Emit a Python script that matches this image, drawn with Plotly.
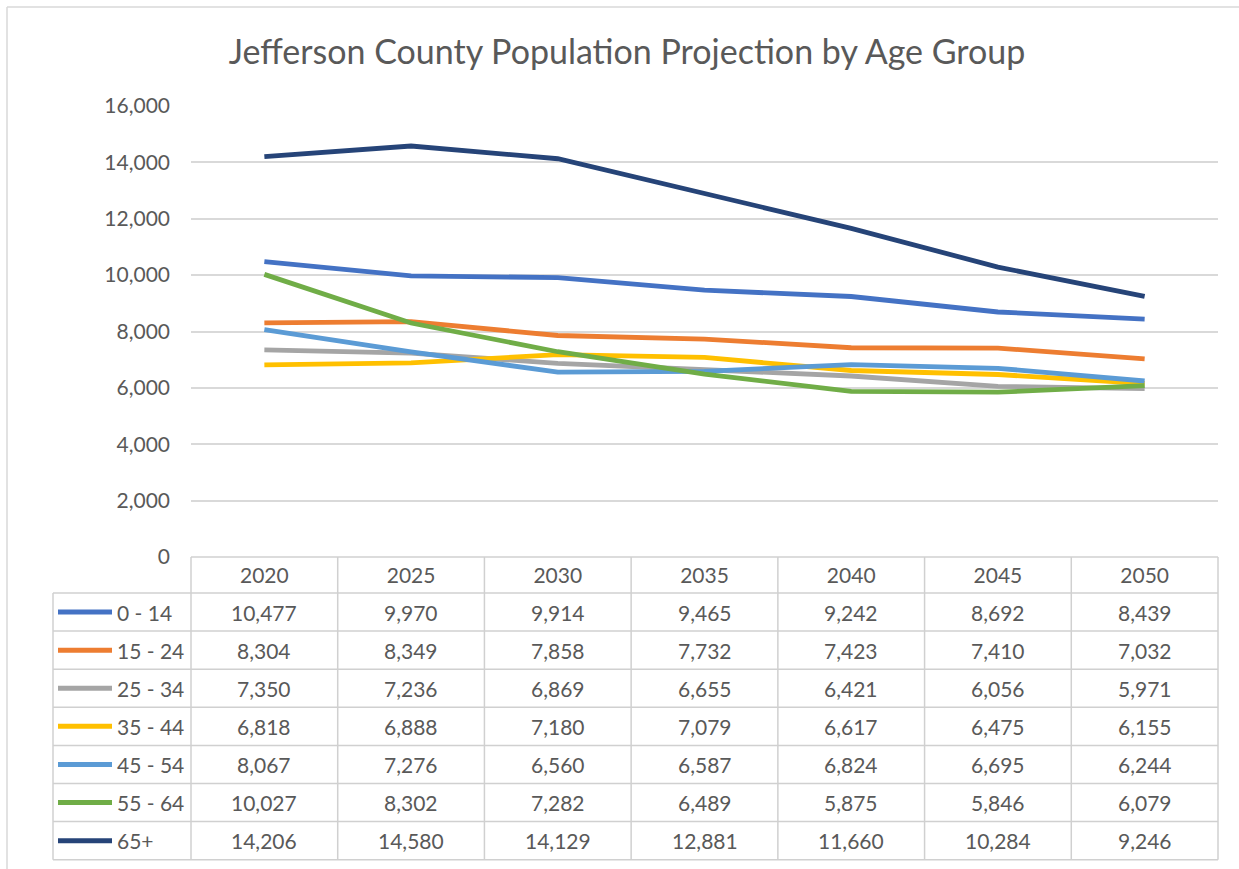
import plotly.graph_objects as go

W, H = 1239, 869

years = ["2020", "2025", "2030", "2035", "2040", "2045", "2050"]
groups = ["0 - 14", "15 - 24", "25 - 34", "35 - 44", "45 - 54", "55 - 64", "65+"]
age_0_14 = [10477, 9970, 9914, 9465, 9242, 8692, 8439]
age_15_24 = [8304, 8349, 7858, 7732, 7423, 7410, 7032]
age_25_34 = [7350, 7236, 6869, 6655, 6421, 6056, 5971]
age_35_44 = [6818, 6888, 7180, 7079, 6617, 6475, 6155]
age_45_54 = [8067, 7276, 6560, 6587, 6824, 6695, 6244]
age_55_64 = [10027, 8302, 7282, 6489, 5875, 5846, 6079]
age_65_plus = [14206, 14580, 14129, 12881, 11660, 10284, 9246]
series = [age_0_14, age_15_24, age_25_34, age_35_44, age_45_54, age_55_64, age_65_plus]
colors = ["#4472C4", "#ED7D31", "#A5A5A5", "#FFC000", "#5B9BD5", "#70AD47", "#264478"]

FONT = "Lato"
TXT = "#595959"
GRID = "#D9D9D9"
BORDER = "#D0D0D0"

def px(x):
    return x / W

def py(y):
    return 1 - y / H

# layout geometry (pixels)
PL, PR, PT, PB = 191, 1218, 106, 557
TAB_LEFT = 53
HEAD_TOP, HEAD_BOT = 557, 593
ROW_H = 38.1

fig = go.Figure()
for name, vals, c in zip(groups, series, colors):
    fig.add_trace(go.Scatter(x=years, y=vals, name=name, mode="lines",
                             line=dict(color=c, width=4.8), showlegend=False,
                             hovertemplate="%{x}: %{y:,}<extra>" + name + "</extra>"))

shapes = []
# chart outer border (left & top)
shapes.append(dict(type="line", xref="paper", yref="paper", x0=px(7), x1=px(1239), y0=py(7), y1=py(7),
                   line=dict(color="#D9D9D9", width=1.5)))
shapes.append(dict(type="line", xref="paper", yref="paper", x0=px(7), x1=px(7), y0=py(7), y1=py(869),
                   line=dict(color="#D9D9D9", width=1.5)))
# table header top
shapes.append(dict(type="line", xref="paper", yref="paper", x0=px(PL), x1=px(PR), y0=py(HEAD_TOP), y1=py(HEAD_TOP),
                   line=dict(color=BORDER, width=1.5)))
n = len(groups)
TAB_BOT = HEAD_BOT + ROW_H * n
for i in range(n + 1):
    yy = HEAD_BOT + ROW_H * i
    shapes.append(dict(type="line", xref="paper", yref="paper", x0=px(TAB_LEFT), x1=px(PR), y0=py(yy), y1=py(yy),
                       line=dict(color=BORDER, width=1.5)))
# verticals
shapes.append(dict(type="line", xref="paper", yref="paper", x0=px(TAB_LEFT), x1=px(TAB_LEFT),
                   y0=py(HEAD_BOT), y1=py(TAB_BOT), line=dict(color=BORDER, width=1.5)))
colw = (PR - PL) / len(years)
for j in range(len(years) + 1):
    xx = PL + colw * j
    shapes.append(dict(type="line", xref="paper", yref="paper", x0=px(xx), x1=px(xx),
                       y0=py(HEAD_TOP), y1=py(TAB_BOT), line=dict(color=BORDER, width=1.5)))

annotations = []
for i, (name, vals, c) in enumerate(zip(groups, series, colors)):
    yc = HEAD_BOT + ROW_H * (i + 0.5)
    shapes.append(dict(type="line", xref="paper", yref="paper", x0=px(58), x1=px(112), y0=py(yc), y1=py(yc),
                       line=dict(color=c, width=5)))
    annotations.append(dict(text=name, xref="paper", yref="paper", x=px(115), y=py(yc),
                            xanchor="left", yanchor="middle", showarrow=False,
                            font=dict(family=FONT, size=21, color=TXT)))
    for j, v in enumerate(vals):
        annotations.append(dict(text=f"{v:,}", xref="x", yref="paper", x=j, y=py(yc),
                                xanchor="center", yanchor="middle", showarrow=False,
                                font=dict(family=FONT, size=21, color=TXT)))

fig.update_layout(
    width=W, height=H,
    margin=dict(l=0, r=0, t=0, b=0),
    paper_bgcolor="white", plot_bgcolor="white",
    title=dict(text="Jefferson County Population Projection by Age Group",
               x=px(627), xanchor="center", y=py(52), yanchor="middle",
               font=dict(family=FONT, size=34, color=TXT)),
    xaxis=dict(domain=[px(PL), px(PR)], type="category", range=[-0.5, 6.5], automargin=False,
               showgrid=False, zeroline=False, showline=False, ticks="",
               tickfont=dict(family=FONT, size=21, color=TXT), ticklabelstandoff=4),
    yaxis=dict(domain=[py(PB), py(PT)], range=[0, 16000], automargin=False,
               tickvals=[0, 2000, 4000, 6000, 8000, 10000, 12000, 14000, 16000],
               tickformat=",d", showgrid=True, gridcolor=GRID, gridwidth=1.5, zeroline=False, showline=False,
               tickfont=dict(family=FONT, size=21, color=TXT), ticklabelstandoff=20),
    shapes=shapes,
    annotations=annotations,
)

fig.write_html("out.html")
